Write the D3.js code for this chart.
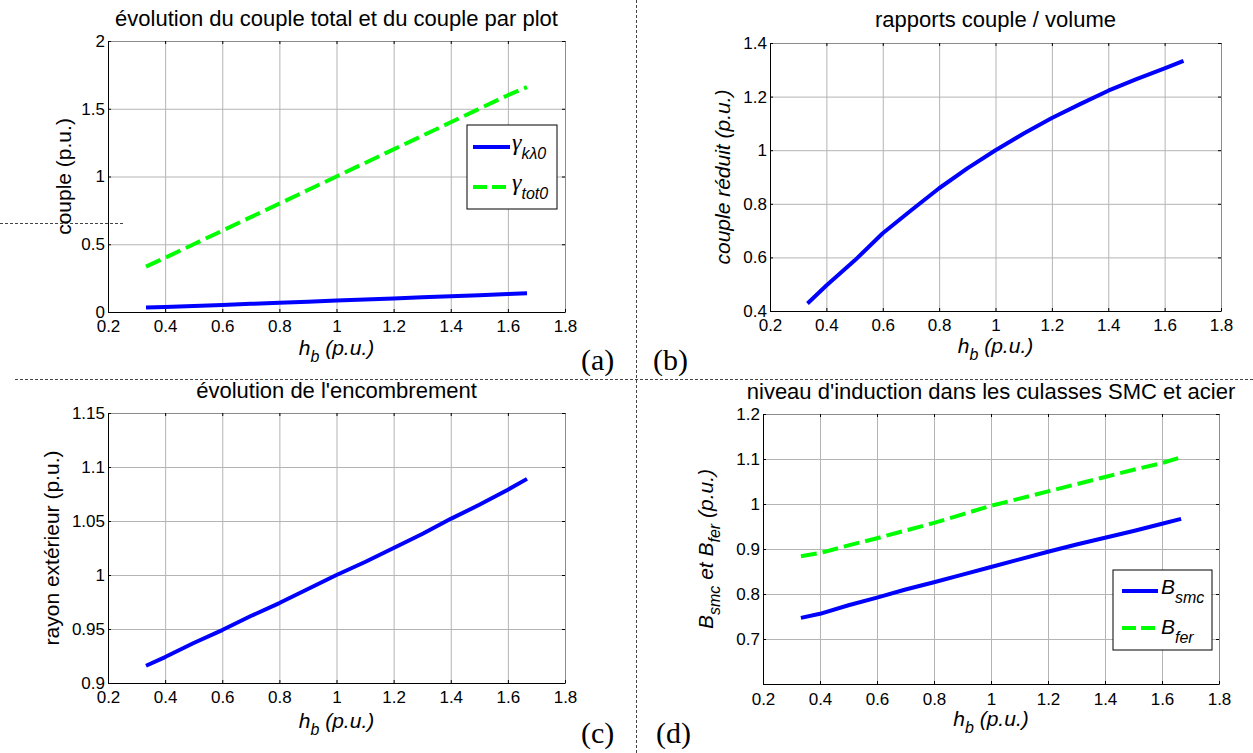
<!DOCTYPE html>
<html><head><meta charset="utf-8">
<script src="https://cdn.jsdelivr.net/npm/d3@7"></script>
<style>
body{margin:0;background:#fff}
svg{display:block}
text{font-family:"Liberation Sans",Arial,Helvetica,sans-serif;fill:#000}
</style>
</head><body>
<svg id="chart" width="1253" height="753"></svg>
<script>
// ---------- data ----------
const hb = [0.333, 0.4, 0.5, 0.6, 0.7, 0.8, 0.9, 1.0, 1.1, 1.2, 1.3, 1.4, 1.5, 1.6, 1.667];
const coupleParPlot = [0.033, 0.037, 0.045, 0.052, 0.060, 0.068, 0.076, 0.084, 0.092, 0.100, 0.108, 0.116, 0.124, 0.132, 0.139];
const coupleTotal   = [0.335, 0.40, 0.50, 0.60, 0.70, 0.80, 0.90, 1.00, 1.10, 1.20, 1.30, 1.40, 1.50, 1.60, 1.66];
const coupleReduit  = [0.428, 0.495, 0.588, 0.690, 0.775, 0.858, 0.932, 1.000, 1.062, 1.120, 1.172, 1.222, 1.265, 1.305, 1.333];
const rayonExt      = [0.916, 0.924, 0.937, 0.949, 0.962, 0.974, 0.987, 1.000, 1.012, 1.025, 1.038, 1.052, 1.065, 1.079, 1.089];
const bSmc          = [0.747, 0.756, 0.775, 0.792, 0.810, 0.826, 0.843, 0.860, 0.877, 0.894, 0.910, 0.925, 0.940, 0.956, 0.967];
const bFer          = [0.884, 0.891, 0.908, 0.924, 0.941, 0.958, 0.977, 0.996, 1.012, 1.028, 1.044, 1.060, 1.076, 1.091, 1.104];

const xTicks = [0.2, 0.4, 0.6, 0.8, 1.0, 1.2, 1.4, 1.6, 1.8];
const xTickLabels = ["0.2", "0.4", "0.6", "0.8", "1", "1.2", "1.4", "1.6", "1.8"];
const yTicksA = [0, 0.5, 1, 1.5, 2];
const yTickLabelsA = ["0", "0.5", "1", "1.5", "2"];
const yTicksB = [0.4, 0.6, 0.8, 1.0, 1.2, 1.4];
const yTickLabelsB = ["0.4", "0.6", "0.8", "1", "1.2", "1.4"];
const yTicksC = [0.9, 0.95, 1.0, 1.05, 1.1, 1.15];
const yTickLabelsC = ["0.9", "0.95", "1", "1.05", "1.1", "1.15"];
const yTicksD = [0.6, 0.7, 0.8, 0.9, 1.0, 1.1, 1.2];
const yTickLabelsD = ["", "0.7", "0.8", "0.9", "1", "1.1", "1.2"];

const titles = ["évolution du couple total et du couple par plot", "rapports couple / volume",
                "évolution de l'encombrement", "niveau d'induction dans les culasses SMC et acier"];
const panelTags = ["(a)", "(b)", "(c)", "(d)"];

// ---------- drawing ----------
const svg = d3.select("#chart");
const BLUE = "#0000ff", GREEN = "#00ff00";
const TICKFS = 17, LABFS = 21, TITLEFS = 22;

function drawPanel(c) {
  const g = svg.append("g");
  const x = d3.scaleLinear().domain([0.2, 1.8]).range([c.l, c.r]);
  const y = d3.scaleLinear().domain(c.yDom).range([c.b, c.t]);
  const h = c.b - c.t, w = c.r - c.l;

  // grid
  g.append("g").attr("transform", `translate(0,${c.b})`)
    .call(d3.axisBottom(x).tickValues(xTicks).tickSize(-h).tickFormat(""))
    .call(s => { s.select(".domain").remove(); s.selectAll("line").attr("stroke", "#b4b4b4").attr("stroke-width", 1); });
  g.append("g").attr("transform", `translate(${c.l},0)`)
    .call(d3.axisLeft(y).tickValues(c.yTicks).tickSize(-w).tickFormat(""))
    .call(s => { s.select(".domain").remove(); s.selectAll("line").attr("stroke", "#b4b4b4").attr("stroke-width", 1); });

  // top & right box (gray) with inward black ticks
  g.append("g").attr("transform", `translate(0,${c.t})`)
    .call(d3.axisTop(x).tickValues(xTicks).tickSizeInner(-3).tickSizeOuter(0).tickFormat(""))
    .call(s => { s.select(".domain").attr("stroke", "#8c8c8c"); s.selectAll("line").attr("stroke", "#000"); });
  g.append("g").attr("transform", `translate(${c.r},0)`)
    .call(d3.axisRight(y).tickValues(c.yTicks).tickSizeInner(-3).tickSizeOuter(0).tickFormat(""))
    .call(s => { s.select(".domain").attr("stroke", "#8c8c8c"); s.selectAll("line").attr("stroke", "#000"); });

  // bottom & left axes (black)
  g.append("g").attr("transform", `translate(0,${c.b})`)
    .call(d3.axisBottom(x).tickValues(xTicks).tickSizeInner(-3).tickSizeOuter(0).tickPadding(c.xPad)
      .tickFormat((d, i) => xTickLabels[i]))
    .call(s => {
      s.attr("font-family", null).attr("font-size", null);
      s.select(".domain").attr("stroke", "#000");
      s.selectAll("line").attr("stroke", "#000");
      s.selectAll("text").attr("font-size", TICKFS);
    });
  g.append("g").attr("transform", `translate(${c.l},0)`)
    .call(d3.axisLeft(y).tickValues(c.yTicks).tickSizeInner(-3).tickSizeOuter(0).tickPadding(3)
      .tickFormat((d, i) => c.yTickLabels[i]))
    .call(s => {
      s.attr("font-family", null).attr("font-size", null);
      s.select(".domain").attr("stroke", "#000");
      s.selectAll("line").attr("stroke", "#000");
      s.selectAll("text").attr("font-size", TICKFS);
    });

  // series
  c.series.forEach(sr => {
    const line = d3.line().x((d, i) => x(hb[i])).y(d => y(d));
    g.append("path").datum(sr.values).attr("d", line)
      .attr("fill", "none").attr("stroke", sr.color).attr("stroke-width", 4)
      .attr("stroke-linejoin", "round")
      .attr("stroke-dasharray", sr.dash ? "16,6" : null);
  });

  // title
  g.append("text").attr("x", (c.l + c.r) / 2).attr("y", c.titleY)
    .attr("text-anchor", "middle").attr("font-size", TITLEFS).text(c.title);

  // x label  h_b (p.u.)
  const xl = g.append("text").attr("x", (c.l + c.r) / 2).attr("y", c.xLabY)
    .attr("text-anchor", "middle").attr("font-size", LABFS).attr("font-style", "italic");
  xl.append("tspan").text("h");
  xl.append("tspan").attr("font-size", 16).attr("dy", 7).text("b");
  xl.append("tspan").attr("dy", -7).text(" (p.u.)");

  // y label
  const yl = g.append("text").attr("transform", `translate(${c.yLabX},${(c.t + c.b) / 2}) rotate(-90)`)
    .attr("text-anchor", "middle").attr("font-size", LABFS)
    .attr("font-style", c.yLabItalic ? "italic" : null);
  c.yLabel.forEach(p => {
    const t = yl.append("tspan").text(p.t);
    if (p.sub) t.attr("font-size", 16).attr("dy", 7);
    if (p.back) t.attr("dy", -7);
  });

  // panel tag
  svg.append("text").attr("x", c.tagX).attr("y", c.tagY)
    .style("font-family", "'Liberation Serif','Times New Roman',serif").attr("font-size", 30).text(c.tag);

  return { x, y, g };
}

// Panel (a)
drawPanel({
  l: 108, r: 565, t: 41, b: 312, yDom: [0, 2], yTicks: yTicksA, yTickLabels: yTickLabelsA, xPad: 8,
  series: [{ values: coupleParPlot, color: BLUE }, { values: coupleTotal, color: GREEN, dash: true }],
  title: titles[0], titleY: 26, xLabY: 355, yLabX: 71, yLabItalic: false,
  yLabel: [{ t: "couple (p.u.)" }], tag: panelTags[0], tagX: 581, tagY: 370
});
// Panel (b)
drawPanel({
  l: 770, r: 1221, t: 43, b: 311, yDom: [0.4, 1.4], yTicks: yTicksB, yTickLabels: yTickLabelsB, xPad: 8,
  series: [{ values: coupleReduit, color: BLUE }],
  title: titles[1], titleY: 27, xLabY: 353, yLabX: 730, yLabItalic: true,
  yLabel: [{ t: "couple réduit (p.u.)" }], tag: panelTags[1], tagX: 653, tagY: 370
});
// Panel (c)
drawPanel({
  l: 108, r: 565, t: 413, b: 683, yDom: [0.9, 1.15], yTicks: yTicksC, yTickLabels: yTickLabelsC, xPad: 8,
  series: [{ values: rayonExt, color: BLUE }],
  title: titles[2], titleY: 398, xLabY: 728, yLabX: 59, yLabItalic: false,
  yLabel: [{ t: "rayon extérieur (p.u.)" }], tag: panelTags[2], tagX: 581, tagY: 743
});
// Panel (d)
drawPanel({
  l: 763, r: 1219, t: 414, b: 684, yDom: [0.6, 1.2], yTicks: yTicksD, yTickLabels: yTickLabelsD, xPad: 9,
  series: [{ values: bSmc, color: BLUE }, { values: bFer, color: GREEN, dash: true }],
  title: titles[3], titleY: 399, xLabY: 726, yLabX: 713, yLabItalic: true,
  yLabel: [{ t: "B" }, { t: "smc", sub: true }, { t: " et B", back: true }, { t: "fer", sub: true }, { t: " (p.u.)", back: true }],
  tag: panelTags[3], tagX: 656, tagY: 743
});

// ---------- legends ----------
function legend(box, items) {
  const g = svg.append("g");
  g.append("rect").attr("x", box.x).attr("y", box.y).attr("width", box.w).attr("height", box.h)
    .attr("fill", "#fff").attr("stroke", "#000").attr("stroke-width", 1);
  items.forEach(it => {
    g.append("line").attr("x1", box.lx1).attr("x2", box.lx2).attr("y1", it.y).attr("y2", it.y)
      .attr("stroke", it.color).attr("stroke-width", 4).attr("stroke-dasharray", it.dash ? "14,5" : null);
    const t = g.append("text").attr("x", box.tx).attr("y", it.y + it.base);
    t.append("tspan").attr("font-size", it.mainSize).style("font-family", it.mainFont)
      .attr("font-style", "italic").text(it.main);
    t.append("tspan").attr("font-size", 16).attr("font-style", "italic").attr("dy", 9).text(it.sub);
  });
}
legend({ x: 467, y: 125, w: 90, h: 84, lx1: 473, lx2: 510, tx: 512 }, [
  { y: 147, color: BLUE, main: "γ", sub: "kλ0", base: 3, mainSize: 24, mainFont: "'Liberation Serif',serif" },
  { y: 187, color: GREEN, dash: true, main: "γ", sub: "tot0", base: 3, mainSize: 24, mainFont: "'Liberation Serif',serif" }
]);
legend({ x: 1113, y: 570, w: 99, h: 80, lx1: 1122, lx2: 1158, tx: 1161 }, [
  { y: 591, color: BLUE, main: "B", sub: "smc", base: 3, mainSize: 21 },
  { y: 628, color: GREEN, dash: true, main: "B", sub: "fer", base: 6, mainSize: 21 }
]);

// ---------- separators ----------
const sep = svg.append("g").attr("stroke", "#444").attr("stroke-width", 1).attr("stroke-dasharray", "3,2");
sep.append("line").attr("x1", 15).attr("x2", 1253).attr("y1", 379.5).attr("y2", 379.5);
sep.append("line").attr("x1", 636.5).attr("x2", 636.5).attr("y1", 0).attr("y2", 753);
sep.append("line").attr("x1", 0).attr("x2", 125).attr("y1", 223.5).attr("y2", 223.5);
</script>
</body></html>
